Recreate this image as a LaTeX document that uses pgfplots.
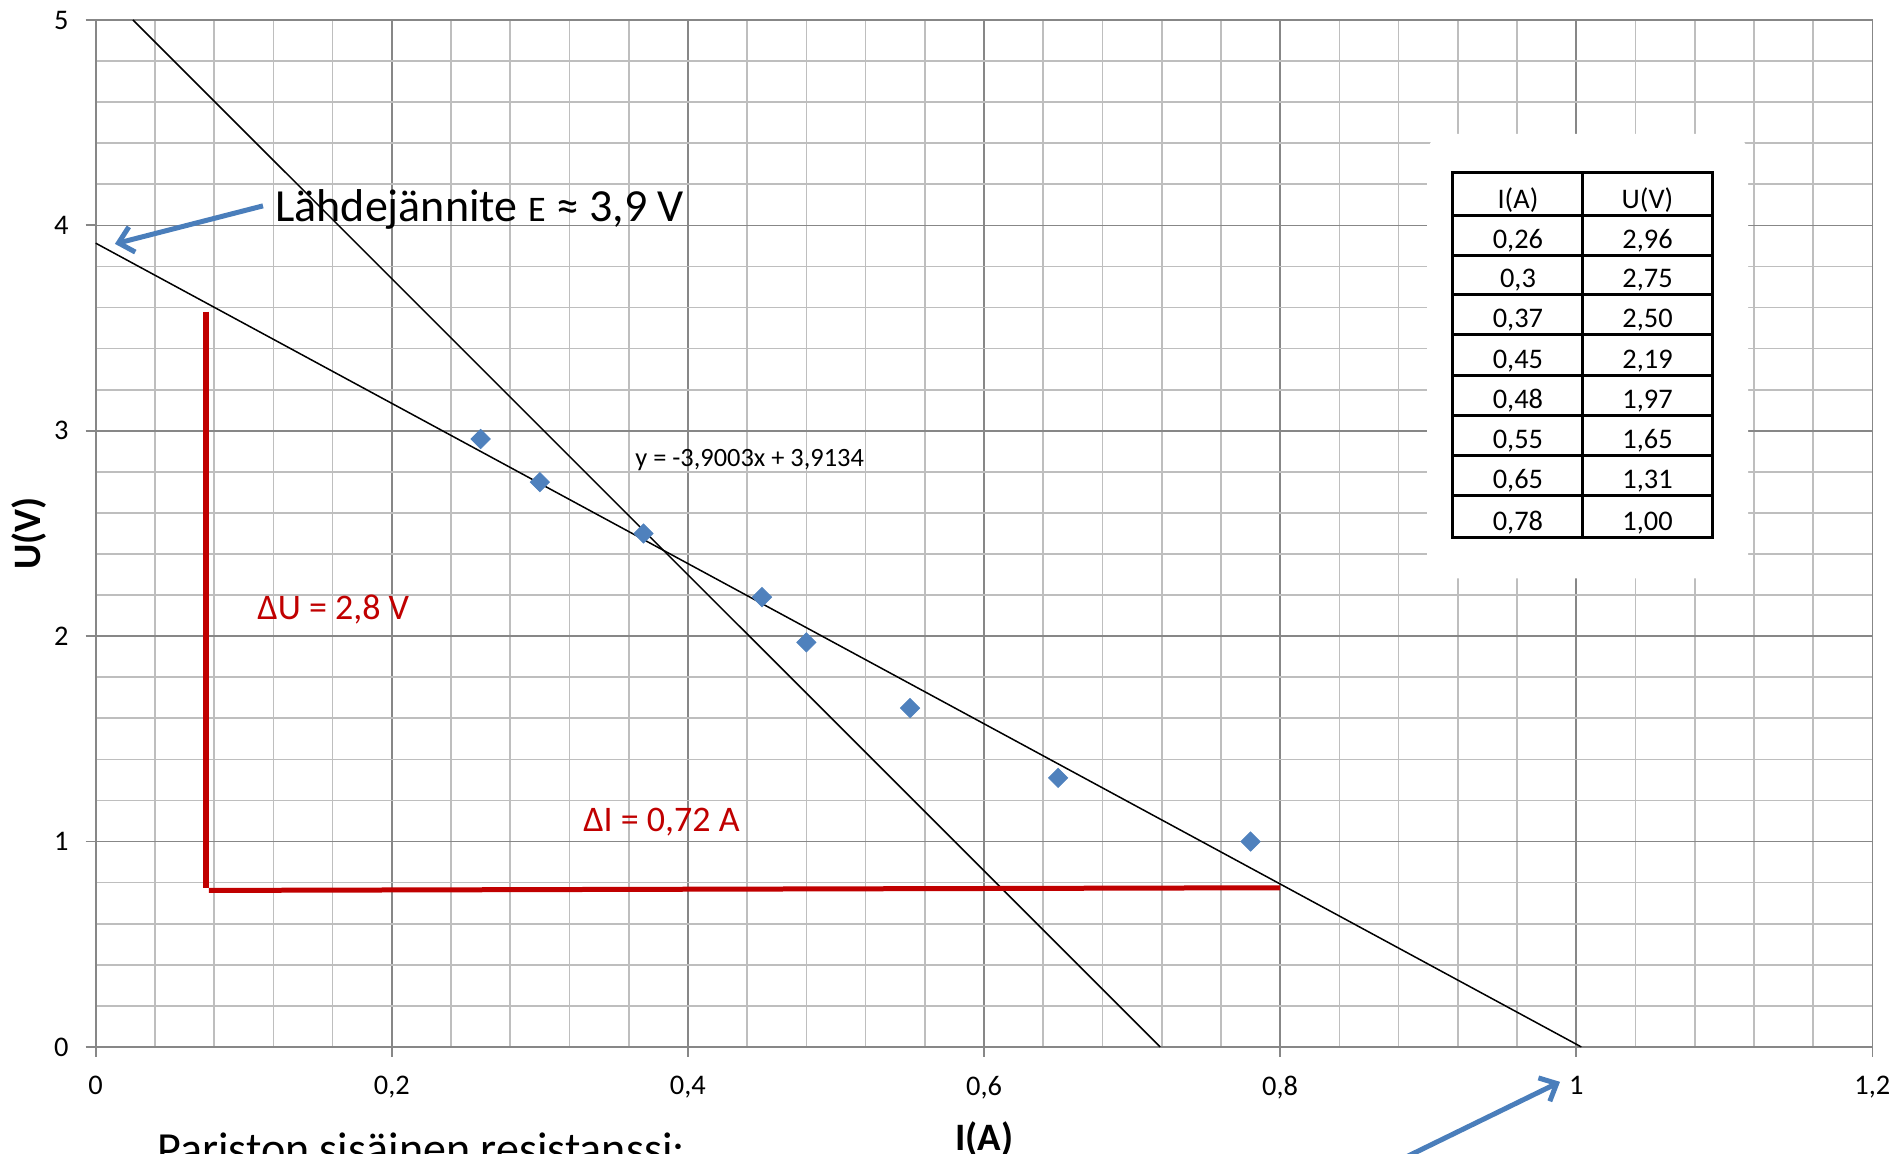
\documentclass[border=0pt]{standalone}
\usepackage{pgfplots}
\pgfplotsset{compat=1.18}
\usepackage{fontspec}
\setmainfont{Carlito}
\usetikzlibrary{arrows.meta}
\definecolor{gmaj}{HTML}{878787}
\definecolor{gmin}{HTML}{BEBEBE}
\definecolor{dblue}{HTML}{4F81BD}
\definecolor{arblue}{HTML}{4A7EBB}
\definecolor{dred}{HTML}{C00000}
\tikzset{tcell/.style={anchor=base, inner sep=0pt, font=\fontsize{14.2}{17}\selectfont}}
\begin{document}
\begin{tikzpicture}
\begin{axis}[
  scale only axis, width=888.4pt, height=513.5pt,
  xmin=0, xmax=1.2, ymin=0, ymax=5,
  xtick={0,0.2,0.4,0.6,0.8,1,1.2},
  ytick={0,1,2,3,4,5},
  minor x tick num=4, minor y tick num=4,
  grid=both,
  major grid style={draw=gmaj, line width=0.85pt},
  minor grid style={draw=gmin, line width=0.85pt},
  axis line style={draw=gmaj, line width=0.9pt},
  tick align=outside, tick pos=left,
  major tick length=5pt, minor tick length=0pt,
  major tick style={draw=gmaj, line width=0.9pt},
  /pgf/number format/use comma,
  /pgf/number format/assume math mode=true,
  ticklabel style={font=\fontsize{14.2}{17}\selectfont},
  yticklabel style={xshift=-5pt},
  xticklabel style={yshift=-6pt},
  xlabel={I(A)}, ylabel={U(V)},
  xlabel style={font=\fontsize{19.4}{23}\selectfont\bfseries, at={(axis description cs:0.5,-0.072)}, anchor=north, inner sep=0pt},
  ylabel style={font=\fontsize{19.4}{23}\selectfont\bfseries, at={(axis description cs:-0.0473,0.5)}, anchor=north, inner sep=0pt},
  clip=false,
]
% data points
\addplot[only marks, mark=square*, mark size=3.4pt, mark options={rotate=45, fill=dblue, draw=dblue}]
  coordinates {(0.26,2.96) (0.3,2.75) (0.37,2.50) (0.45,2.19) (0.48,1.97) (0.55,1.65) (0.65,1.31) (0.78,1.00)};
% trendline and steep line
\addplot[black, line width=0.75pt] coordinates {(0,3.9134) (1.0034,0)};
\addplot[black, line width=0.75pt] coordinates {(0.0252,5) (0.719,0)};
% red lines
\addplot[dred, line width=3pt] coordinates {(0.0748,3.58) (0.0748,0.773)};
\addplot[dred, line width=2.5pt] coordinates {(0.0765,0.762) (0.800,0.775)};
% blue arrows
\draw[arblue, line width=2.5pt, -{Straight Barb[length=7pt,width=13pt]}] (0.1130,4.095) -- (0.0130,3.910);
\draw[arblue, line width=2.5pt, -{Straight Barb[length=7pt,width=13pt]}] (0.8370,-0.705) -- (0.9890,-0.170);
% texts
\node[anchor=base west, inner sep=0pt] at (0.1211,4.0175) {\fontsize{23}{28}\selectfont Lähdejännite {\fontsize{18}{21}\selectfont E} ≈ 3,9 V};
\node[anchor=base west, inner sep=0pt] at (0.3642,2.826) {\fontsize{13.2}{16}\selectfont y = -3,9003x + 3,9134};
\node[anchor=base west, inner sep=0pt, text=dred] at (0.1090,2.082) {\fontsize{18}{22}\selectfont ΔU = 2,8 V};
\node[anchor=base west, inner sep=0pt, text=dred] at (0.3291,1.051) {\fontsize{18}{22}\selectfont ΔI = 0,72 A};
\node[anchor=base west, inner sep=0pt] at (0.0414,-0.574) {\fontsize{23}{28}\selectfont Pariston sisäinen resistanssi:};
% table
\fill[white, rounded corners=10pt] (0.8992,4.4455) rectangle (1.1160,2.281);
\draw[black, line width=1.5pt] (0.9167,4.2558) rectangle (1.0917,2.4805);
\draw[black, line width=1.5pt] (1.0045,4.2558) -- (1.0045,2.4805);
\draw[black, line width=1.5pt] (0.9167,4.0467) -- (1.0917,4.0467);
\draw[black, line width=1.5pt] (0.9167,3.8521) -- (1.0917,3.8521);
\draw[black, line width=1.5pt] (0.9167,3.6625) -- (1.0917,3.6625);
\draw[black, line width=1.5pt] (0.9167,3.4679) -- (1.0917,3.4679);
\draw[black, line width=1.5pt] (0.9167,3.2685) -- (1.0917,3.2685);
\draw[black, line width=1.5pt] (0.9167,3.0739) -- (1.0917,3.0739);
\draw[black, line width=1.5pt] (0.9167,2.8794) -- (1.0917,2.8794);
\draw[black, line width=1.5pt] (0.9167,2.6848) -- (1.0917,2.6848);
\node[tcell] at (0.9606,4.081) {I(A)};  \node[tcell] at (1.0481,4.081) {U(V)};
\node[tcell] at (0.9606,3.886) {0,26};  \node[tcell] at (1.0481,3.886) {2,96};
\node[tcell] at (0.9606,3.697) {0,3};   \node[tcell] at (1.0481,3.697) {2,75};
\node[tcell] at (0.9606,3.502) {0,37};  \node[tcell] at (1.0481,3.502) {2,50};
\node[tcell] at (0.9606,3.303) {0,45};  \node[tcell] at (1.0481,3.303) {2,19};
\node[tcell] at (0.9606,3.108) {0,48};  \node[tcell] at (1.0481,3.108) {1,97};
\node[tcell] at (0.9606,2.914) {0,55};  \node[tcell] at (1.0481,2.914) {1,65};
\node[tcell] at (0.9606,2.719) {0,65};  \node[tcell] at (1.0481,2.719) {1,31};
\node[tcell] at (0.9606,2.515) {0,78};  \node[tcell] at (1.0481,2.515) {1,00};
\end{axis}
\pgfresetboundingbox
\path[use as bounding box] (-47.85pt,-53.5pt) rectangle (899.7pt,523.5pt);
\end{tikzpicture}
\end{document}
